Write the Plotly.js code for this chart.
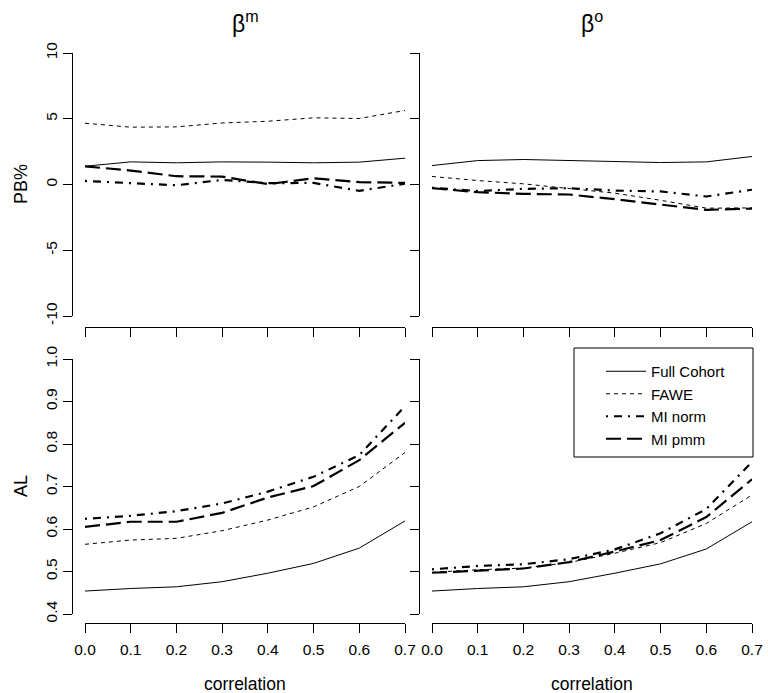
<!DOCTYPE html>
<html><head><meta charset="utf-8">
<script src="https://cdn.plot.ly/plotly-3.0.1.min.js"></script>
<style>html,body{margin:0;padding:0;background:#fff}#chart{width:768px;height:693px}</style>
</head><body><div id="chart"></div>
<script>
const correlation = [0.0, 0.1, 0.2, 0.3, 0.4, 0.5, 0.6, 0.7];
const seriesNames = ['Full Cohort', 'FAWE', 'MI norm', 'MI pmm'];
const columnTitles = ['β<sup>m</sup>', 'β<sup>o</sup>'];
const rowTitles = ['PB%', 'AL'];
const xAxisTitle = 'correlation';

const pbBetaM_full = [1.39, 1.72, 1.65, 1.72, 1.70, 1.65, 1.70, 2.00];
const pbBetaM_fawe = [4.66, 4.36, 4.38, 4.68, 4.81, 5.07, 5.02, 5.63];
const pbBetaM_norm = [0.27, 0.10, -0.06, 0.35, 0.10, 0.12, -0.48, 0.06];
const pbBetaM_pmm  = [1.38, 1.06, 0.63, 0.60, 0.03, 0.47, 0.18, 0.12];

const pbBetaO_full = [1.44, 1.82, 1.90, 1.82, 1.77, 1.67, 1.72, 2.13];
const pbBetaO_fawe = [0.61, 0.30, 0.05, -0.28, -0.66, -1.20, -1.80, -1.78];
const pbBetaO_norm = [-0.25, -0.50, -0.33, -0.28, -0.46, -0.53, -0.91, -0.40];
const pbBetaO_pmm  = [-0.28, -0.58, -0.71, -0.76, -1.12, -1.52, -1.93, -1.83];

const alBetaM_full = [0.454, 0.460, 0.464, 0.476, 0.496, 0.519, 0.555, 0.619];
const alBetaM_fawe = [0.564, 0.574, 0.578, 0.596, 0.621, 0.652, 0.700, 0.780];
const alBetaM_norm = [0.624, 0.631, 0.642, 0.660, 0.688, 0.723, 0.774, 0.889];
const alBetaM_pmm  = [0.605, 0.617, 0.617, 0.638, 0.674, 0.701, 0.762, 0.850];

const alBetaO_full = [0.454, 0.460, 0.464, 0.476, 0.496, 0.518, 0.553, 0.617];
const alBetaO_fawe = [0.498, 0.504, 0.508, 0.521, 0.543, 0.568, 0.613, 0.680];
const alBetaO_norm = [0.505, 0.513, 0.517, 0.529, 0.552, 0.590, 0.647, 0.758];
const alBetaO_pmm  = [0.497, 0.502, 0.507, 0.522, 0.547, 0.574, 0.628, 0.717];

const xTicks = [0.0, 0.1, 0.2, 0.3, 0.4, 0.5, 0.6, 0.7];
const pbTicks = [-10, -5, 0, 5, 10];
const alTicks = [0.4, 0.5, 0.6, 0.7, 0.8, 0.9, 1.0];

const W = 768, H = 693;
const px = v => v / W;
const py = v => 1 - v / H;
const FONT = 'Liberation Sans, Arial, Helvetica, sans-serif';

const lineStyles = [
  {color: '#000', width: 1, dash: 'solid'},
  {color: '#000', width: 1, dash: '4px,4px'},
  {color: '#000', width: 2.2, dash: '2px,6px,8px,6px'},
  {color: '#000', width: 2.2, dash: '15px,6px'}
];

const panels = [
  {xa: 'x',  ya: 'y',  series: [pbBetaM_full, pbBetaM_fawe, pbBetaM_norm, pbBetaM_pmm]},
  {xa: 'x2', ya: 'y2', series: [pbBetaO_full, pbBetaO_fawe, pbBetaO_norm, pbBetaO_pmm]},
  {xa: 'x3', ya: 'y3', series: [alBetaM_full, alBetaM_fawe, alBetaM_norm, alBetaM_pmm]},
  {xa: 'x4', ya: 'y4', series: [alBetaO_full, alBetaO_fawe, alBetaO_norm, alBetaO_pmm]}
];

const traces = [];
panels.forEach((p, pi) => {
  p.series.forEach((vals, si) => {
    traces.push({
      type: 'scatter', mode: 'lines',
      x: correlation, y: vals,
      xaxis: p.xa, yaxis: p.ya,
      name: seriesNames[si],
      line: lineStyles[si],
      showlegend: pi === 3,
      cliponaxis: false,
      hoverinfo: 'skip'
    });
  });
});

const tickFont = {family: FONT, size: 15.5, color: '#000'};
function xAxis(domain, posY, labels) {
  return {
    domain: domain, range: [0, 0.7], anchor: 'free', position: posY,
    tickvals: xTicks, ticktext: xTicks.map(v => v.toFixed(1)),
    showticklabels: labels, ticks: 'outside', ticklen: 9, tickwidth: 1, tickcolor: '#000',
    ticklabelstandoff: 3,
    showline: true, linecolor: '#000', linewidth: 1,
    showgrid: false, zeroline: false, tickfont: tickFont, fixedrange: true
  };
}
function yAxis(domain, range, ticks, posX, labels, fmt) {
  return {
    domain: domain, range: range, anchor: 'free', position: posX,
    tickvals: ticks, ticktext: ticks.map(fmt),
    showticklabels: labels, tickangle: -90,
    ticks: 'outside', ticklen: 9, tickwidth: 1, tickcolor: '#000',
    showline: true, linecolor: '#000', linewidth: 1,
    showgrid: false, zeroline: false, tickfont: tickFont, fixedrange: true
  };
}

const leftDom = [px(85), px(405)];
const rightDom = [px(432), px(752)];
const topDom = [py(316), py(53)];
const botDom = [py(614), py(359)];

const annFont = {family: FONT, size: 18, color: '#000'};
const annotations = [
  {text: columnTitles[0], x: px(245), y: py(22), font: {family: FONT, size: 23, color: '#000'}},
  {text: columnTitles[1], x: px(592), y: py(22), font: {family: FONT, size: 23, color: '#000'}},
  {text: rowTitles[0], x: px(21), y: py(184), textangle: -90, font: annFont},
  {text: rowTitles[1], x: px(21), y: py(486), textangle: -90, font: annFont},
  {text: xAxisTitle, x: px(245), y: py(684), font: {family: FONT, size: 17.5, color: '#000'}},
  {text: xAxisTitle, x: px(592), y: py(684), font: {family: FONT, size: 17.5, color: '#000'}}
].map(a => Object.assign({xref: 'paper', yref: 'paper', showarrow: false, xanchor: 'center', yanchor: 'middle'}, a));

const layout = {
  width: W, height: H,
  margin: {l: 0, r: 0, t: 0, b: 0},
  paper_bgcolor: '#fff', plot_bgcolor: 'rgba(0,0,0,0)',
  showlegend: true,
  xaxis: xAxis(leftDom, py(327), false),
  xaxis2: xAxis(rightDom, py(327), false),
  xaxis3: xAxis(leftDom, py(623), true),
  xaxis4: xAxis(rightDom, py(623), true),
  yaxis: yAxis(topDom, [-10, 10], pbTicks, px(72), true, v => String(v)),
  yaxis2: yAxis(topDom, [-10, 10], pbTicks, px(419), false, v => String(v)),
  yaxis3: yAxis(botDom, [0.4, 1.0], alTicks, px(72), true, v => v.toFixed(1)),
  yaxis4: yAxis(botDom, [0.4, 1.0], alTicks, px(419), false, v => v.toFixed(1)),
  legend: {
    x: px(601), y: py(355), xanchor: 'left', yanchor: 'top',
    bgcolor: 'rgba(0,0,0,0)', borderwidth: 0,
    font: {family: FONT, size: 15, color: '#000'},
    itemwidth: 40, tracegroupgap: 0
  },
  shapes: [
    {type: 'rect', xref: 'paper', yref: 'paper', x0: px(574), x1: px(753), y0: py(457), y1: py(348),
     line: {color: '#000', width: 1}, fillcolor: 'rgba(0,0,0,0)', layer: 'below'}
  ],
  annotations: annotations
};

Plotly.newPlot('chart', traces, layout, {staticPlot: true, displayModeBar: false});
</script>
</body></html>
